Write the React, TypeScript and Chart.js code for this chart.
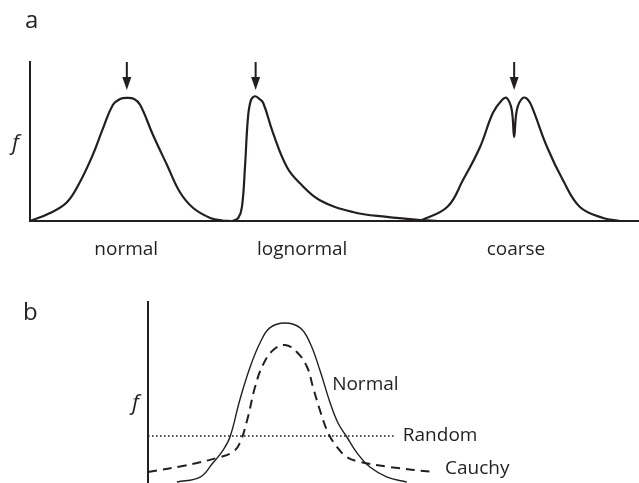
import React, { useEffect, useRef } from "react";
import { Chart, registerables } from "chart.js";

Chart.register(...registerables);

const INK = "#231f20";
const FAMILY = '"Open Sans", "DejaVu Sans", sans-serif';

// ---------- Panel a ----------
const categories = ["normal", "lognormal", "coarse"];
const categoryX = [15.8, 44.7, 79.8];
const arrowX = [15.9, 37.05, 79.5];

const normalAX = [0, 3.3, 6.1, 8.2, 10.3, 12.0, 13.6, 14.8, 15.9, 17.1, 18.1, 20.2, 22.5, 24.6, 26.8, 29.6, 31.7, 33.0];
const normalAY = [0, 0.065, 0.155, 0.319, 0.54, 0.76, 0.948, 0.997, 1.006, 0.997, 0.948, 0.703, 0.458, 0.237, 0.106, 0.025, 0.003, 0];

const lognormalX = [33.3, 34.2, 34.8, 35.3, 35.8, 36.3, 36.95, 37.6, 38.3, 39.9, 42.2, 44.3, 47.6, 53.0, 58.6, 64.0, 67.0];
const lognormalY = [0, 0.025, 0.114, 0.44, 0.85, 0.99, 1.02, 1.0, 0.965, 0.72, 0.44, 0.31, 0.17, 0.074, 0.033, 0.008, 0];

const coarseX = [64.0, 68.5, 71.1, 73.9, 76.0, 77.5, 78.3, 79.1, 79.5, 79.95, 80.9, 81.8, 82.6, 84.9, 87.5, 90.3, 94.1, 96.9];
const coarseY = [0, 0.114, 0.335, 0.605, 0.883, 0.99, 1.006, 0.91, 0.687, 0.91, 1.006, 0.99, 0.91, 0.605, 0.335, 0.114, 0.025, 0];

// ---------- Panel b ----------
const normalBX = [5.9, 10.6, 13.2, 15.3, 16.7, 18.7, 20.8, 22.8, 24.8, 27.9, 31.0, 33.0, 35.0, 37.1, 38.7, 40.5, 42.6, 45.2, 48.7, 52.7];
const normalBY = [0, 0.031, 0.119, 0.201, 0.283, 0.516, 0.723, 0.874, 0.969, 1.0, 0.969, 0.874, 0.704, 0.497, 0.371, 0.283, 0.182, 0.094, 0.031, 0];

const cauchyX = [0, 7.1, 14.7, 17.3, 18.7, 20.2, 21.8, 23.4, 25.5, 27.9, 30.3, 32.4, 33.6, 35.0, 36.7, 38.5, 40.5, 43.2, 49.3, 58.0];
const cauchyY = [0.063, 0.101, 0.157, 0.189, 0.245, 0.39, 0.597, 0.736, 0.83, 0.862, 0.818, 0.723, 0.597, 0.453, 0.308, 0.22, 0.157, 0.126, 0.094, 0.063];

const randomX = [0, 50.3];
const randomY = [0.289, 0.289];

const curveLabels = ["Normal", "Random", "Cauchy"];
const curveLabelX = [37.5, 51.9, 60.5];
const curveLabelY = [0.61, 0.289, 0.082];

const pts = (xs: number[], ys: number[]) => xs.map((x, i) => ({ x, y: ys[i] }));

const arrowsPlugin = {
  id: "arrows",
  afterDatasetsDraw(chart: any, _args: any, opts: any) {
    if (!opts || !opts.at) return;
    const { ctx } = chart;
    const xs = chart.scales.x;
    const ys = chart.scales.y;
    opts.at.forEach((v: number) => {
      const px = xs.getPixelForValue(v);
      const top = ys.getPixelForValue(opts.from);
      const tip = ys.getPixelForValue(opts.to);
      ctx.save();
      ctx.strokeStyle = INK;
      ctx.fillStyle = INK;
      ctx.lineWidth = 2;
      ctx.beginPath();
      ctx.moveTo(px, top);
      ctx.lineTo(px, tip - 10);
      ctx.stroke();
      ctx.beginPath();
      ctx.moveTo(px - 4.5, tip - 13);
      ctx.lineTo(px + 4.5, tip - 13);
      ctx.lineTo(px, tip);
      ctx.closePath();
      ctx.fill();
      ctx.restore();
    });
  },
};

const textPlugin = {
  id: "texts",
  afterDraw(chart: any, _args: any, opts: any) {
    if (!opts || !opts.items) return;
    const { ctx } = chart;
    opts.items.forEach((it: any) => {
      ctx.save();
      ctx.fillStyle = INK;
      ctx.font = it.font;
      ctx.textAlign = "left";
      ctx.textBaseline = it.baseline || "alphabetic";
      let x = it.x;
      let y = it.y;
      if (it.data) {
        x = chart.scales.x.getPixelForValue(it.x);
        y = chart.scales.y.getPixelForValue(it.y);
      }
      ctx.fillText(it.text, x, y);
      ctx.restore();
    });
  },
};

export default function App() {
  const refA = useRef<HTMLCanvasElement>(null);
  const refB = useRef<HTMLCanvasElement>(null);

  useEffect(() => {
    const lineBase = {
      borderColor: INK,
      pointRadius: 0,
      fill: false,
      tension: 0.4,
      clip: false as any,
    };

    const chartA = new Chart(refA.current as HTMLCanvasElement, {
      type: "line",
      data: {
        datasets: [
          { ...lineBase, data: pts(normalAX, normalAY), borderWidth: 2.2 },
          { ...lineBase, data: pts(lognormalX, lognormalY), borderWidth: 2.2 },
          { ...lineBase, data: pts(coarseX, coarseY), borderWidth: 2.2 },
        ],
      },
      options: {
        animation: false,
        responsive: false,
        events: [],
        layout: { padding: { left: 30, top: 62, right: 0, bottom: 0 } },
        plugins: {
          legend: { display: false },
          tooltip: { enabled: false },
          arrows: { at: arrowX, from: 1.3, to: 1.072 },
          texts: {
            items: [
              { text: "a", x: 25, y: 28, font: `24px ${FAMILY}` },
              { text: "f", x: 12, y: 150, font: `italic 22px ${FAMILY}` },
            ],
          },
        } as any,
        scales: {
          x: {
            type: "linear",
            min: 0,
            max: 100,
            grid: { display: false },
            border: { display: true, color: INK, width: 2 },
            afterBuildTicks: (s: any) => {
              s.ticks = categoryX.map((v) => ({ value: v }));
            },
            afterFit: (s: any) => {
              s.height = 41;
            },
            ticks: {
              autoSkip: false,
              maxRotation: 0,
              padding: 9,
              color: INK,
              font: { family: FAMILY, size: 19 },
              callback: (_v: any, i: number) => categories[i],
            },
          },
          y: {
            type: "linear",
            min: 0,
            max: 1.3,
            grid: { display: false },
            border: { display: true, color: INK, width: 2 },
            ticks: { display: false },
            afterFit: (s: any) => {
              s.width = 0;
            },
          },
        },
      },
      plugins: [arrowsPlugin, textPlugin],
    });

    const chartB = new Chart(refB.current as HTMLCanvasElement, {
      type: "line",
      data: {
        datasets: [
          { ...lineBase, data: pts(normalBX, normalBY), borderWidth: 1.4 },
          { ...lineBase, data: pts(cauchyX, cauchyY), borderWidth: 2, borderDash: [9, 6] },
          { ...lineBase, data: pts(randomX, randomY), borderWidth: 1.6, borderDash: [1.6, 2.4], tension: 0 },
        ],
      },
      options: {
        animation: false,
        responsive: false,
        events: [],
        layout: { padding: { left: 148, top: 22, right: 0, bottom: 1 } },
        plugins: {
          legend: { display: false },
          tooltip: { enabled: false },
          texts: {
            items: [
              { text: "b", x: 23, y: 40, font: `24px ${FAMILY}` },
              { text: "f", x: 132, y: 130, font: `italic 22px ${FAMILY}` },
              ...curveLabels.map((t, i) => ({
                text: t,
                x: curveLabelX[i],
                y: curveLabelY[i],
                data: true,
                baseline: "middle",
                font: `19px ${FAMILY}`,
              })),
            ],
          },
        } as any,
        scales: {
          x: {
            type: "linear",
            min: 0,
            max: 100,
            display: false,
          },
          y: {
            type: "linear",
            min: 0,
            max: 1.132,
            grid: { display: false },
            border: { display: true, color: INK, width: 2 },
            ticks: { display: false },
            afterFit: (s: any) => {
              s.width = 0;
            },
          },
        },
      },
      plugins: [textPlugin],
    });

    return () => {
      chartA.destroy();
      chartB.destroy();
    };
  }, []);

  return (
    <div style={{ position: "fixed", left: 0, top: 0, width: 639, height: 483, background: "#fff" }}>
      <div style={{ position: "absolute", left: 0, top: 0 }}>
        <canvas ref={refA} width={639} height={262} />
      </div>
      <div style={{ position: "absolute", left: 0, top: 280 }}>
        <canvas ref={refB} width={639} height={203} />
      </div>
    </div>
  );
}
